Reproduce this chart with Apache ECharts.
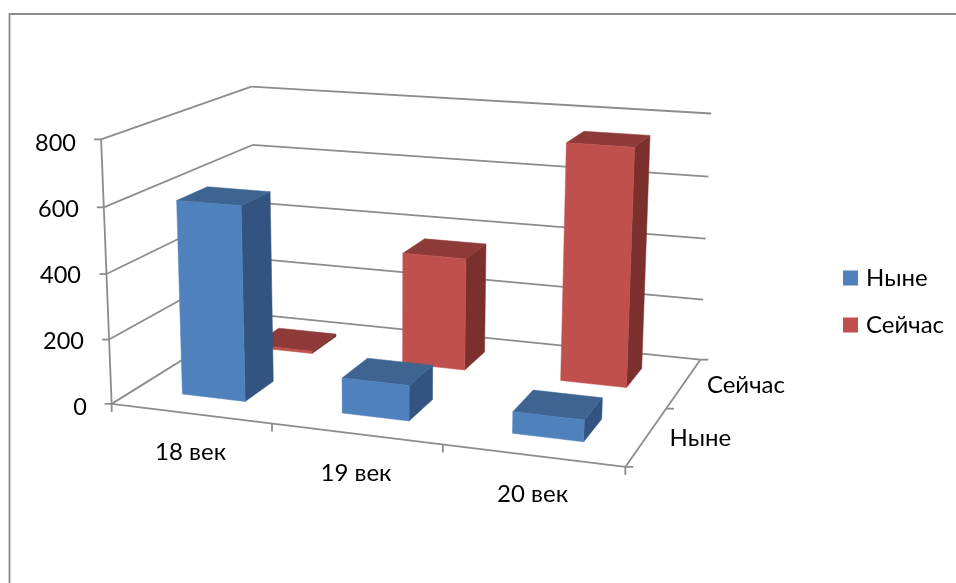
<!DOCTYPE html>
<html><head><meta charset="utf-8">
<style>html,body{margin:0;padding:0;background:#fff}#c{width:956px;height:583px}</style>
<script src="https://cdn.jsdelivr.net/npm/echarts@6/dist/echarts.min.js"></script>
</head><body><div id="c"></div>
<script>
const categories = ['18 век', '19 век', '20 век'];
const depthNames = ['Ныне', 'Сейчас'];
const valuesNyne = [600, 108, 65];
const valuesSeichas = [8, 362, 748];
const yTicks = [0, 200, 400, 600, 800];
const colors = {
  'Ныне': { front: '#4F81BD', top: '#3E6491', side: '#335480' },
  'Сейчас': { front: '#C0504D', top: '#8E3A38', side: '#7B302E' }
};
const font = 'Lato, "Noto Sans", sans-serif';
const textSize = 24;
const gridBox = { left: 113, top: 143, height: 264 };

// Camera calibration: scene point (column, depth row, value share) -> picture point of the box corners.
const calibration = [
  [0,0,0,113,404],[1,0,0,272,423.5],[2,0,0,441.7,445],[3,0,0,625,467],
  [3,1,0,668,408],[3,2,0,700,359],[0,2,0,254,315],
  [0,0,.25,109.5,339],[0,0,.5,107,274],[0,0,.75,103,207],[0,0,1,100,140],
  [0,2,1,252.5,86],[0,2,.75,253,145],
  [3,2,1,711,113.7],[3,2,.75,708,177],[3,2,.25,703,300]
];
function solve(A, b) {
  const n = b.length;
  for (let i = 0; i < n; i++) {
    let p = i;
    for (let r = i + 1; r < n; r++) if (Math.abs(A[r][i]) > Math.abs(A[p][i])) p = r;
    [A[i], A[p]] = [A[p], A[i]]; [b[i], b[p]] = [b[p], b[i]];
    for (let r = i + 1; r < n; r++) {
      const f = A[r][i] / A[i][i];
      for (let c = i; c < n; c++) A[r][c] -= f * A[i][c];
      b[r] -= f * b[i];
    }
  }
  const x = new Array(n);
  for (let i = n - 1; i >= 0; i--) {
    let s = b[i];
    for (let c = i + 1; c < n; c++) s -= A[i][c] * x[c];
    x[i] = s / A[i][i];
  }
  return x;
}
function fitCamera() {
  const rows = [], rhs = [];
  calibration.forEach(([a, d, v, px, py]) => {
    const X = a / 3, Y = d / 2, Z = v, u = px / 1000, w = py / 1000;
    rows.push([X, Y, Z, 1, 0, 0, 0, 0, -u * X, -u * Y, -u * Z]); rhs.push(u);
    rows.push([0, 0, 0, 0, X, Y, Z, 1, -w * X, -w * Y, -w * Z]); rhs.push(w);
  });
  const N = Array.from({ length: 11 }, () => new Array(11).fill(0)), B = new Array(11).fill(0);
  rows.forEach((r, k) => {
    for (let i = 0; i < 11; i++) {
      B[i] += r[i] * rhs[k];
      for (let j = 0; j < 11; j++) N[i][j] += r[i] * r[j];
    }
  });
  return solve(N, B);
}
const cam = fitCamera();
function project(a, d, v) {
  const X = a / 3, Y = d / 2, Z = v;
  const q = cam[8] * X + cam[9] * Y + cam[10] * Z + 1;
  return [(cam[0] * X + cam[1] * Y + cam[2] * Z + cam[3]) / q * 1000,
          (cam[4] * X + cam[5] * Y + cam[6] * Z + cam[7]) / q * 1000];
}
function share(api, v) {
  return (api.coord([0, 0])[1] - api.coord([0, v])[1]) / gridBox.height;
}
const lineStyle = { stroke: '#8C8C8C', lineWidth: 1.8, fill: null };
function seg(a, b) {
  return { type: 'line', shape: { x1: a[0], y1: a[1], x2: b[0], y2: b[1] }, style: lineStyle, silent: true };
}
function label(text, pos, align) {
  return { type: 'text', style: { text, x: pos[0], y: pos[1], fill: '#000', font: textSize + 'px ' + font, textAlign: align, textVerticalAlign: 'middle' }, silent: true };
}
function renderBox(api) {
  const children = [];
  yTicks.forEach(t => {
    const v = share(api, t);
    const fl = project(0, 0, v), bl = project(0, 2, v), br = project(3, 2, v);
    children.push(seg(fl, bl), seg(bl, br), seg([fl[0] - 7, fl[1]], fl));
  });
  children.push(seg(project(0, 0, 0), project(0, 0, 1)));
  children.push(seg(project(0, 0, 0), project(3, 0, 0)), seg(project(3, 0, 0), project(3, 2, 0)));
  categories.concat(['']).forEach((c, i) => {
    const p = project(i, 0, 0);
    children.push(seg(p, [p[0], p[1] + 8]));
  });
  [0, 1, 2].forEach(d => {
    const p = project(3, d, 0);
    children.push(seg(p, [p[0] + 8, p[1]]));
  });
  categories.forEach((c, i) => {
    const p = project(i + .5, 0, 0);
    children.push(label(c, [p[0], p[1] + 39], 'center'));
  });
  depthNames.forEach((c, d) => {
    const p = project(3, d + .5, 0);
    children.push(label(c, [p[0] + 23, p[1] + 2], 'left'));
  });
  return { type: 'group', children };
}
function renderBar(depth, palette) {
  const w = 0.2, dw = 0.2;
  return function (params, api) {
    const cat = api.value(0), v = share(api, api.value(1));
    const x0 = cat + .5 - w, x1 = cat + .5 + w, d0 = depth + .5 - dw, d1 = depth + .5 + dw;
    const poly = (pts, fill) => ({ type: 'polygon', shape: { points: pts }, style: { fill, stroke: fill, lineWidth: .5 } });
    return { type: 'group', children: [
      poly([project(x1, d0, 0), project(x1, d1, 0), project(x1, d1, v), project(x1, d0, v)], palette.side),
      poly([project(x0, d0, v), project(x1, d0, v), project(x1, d1, v), project(x0, d1, v)], palette.top),
      poly([project(x0, d0, 0), project(x1, d0, 0), project(x1, d0, v), project(x0, d0, v)], palette.front)
    ] };
  };
}
const yPad = { 800: 37, 600: 34, 400: 32, 200: 29, 0: 26 };
const richStyles = {};
yTicks.forEach(t => { richStyles['t' + t] = { padding: [0, yPad[t], 0, 0], fontSize: 23.5, fontFamily: font, color: '#000' }; });
const chart = echarts.init(document.getElementById('c'));
chart.setOption({
  animation: false,
  backgroundColor: '#fff',
  grid: { left: gridBox.left, top: gridBox.top, height: gridBox.height, width: 500 },
  xAxis: { type: 'category', data: categories, show: false },
  yAxis: {
    type: 'value', min: 0, max: 800, interval: 200,
    axisLine: { show: false }, axisTick: { show: false }, splitLine: { show: false },
    axisLabel: { margin: 0, formatter: v => '{t' + v + '|' + v + '}', rich: richStyles }
  },
  legend: {
    orient: 'vertical', left: 838, top: 261, itemWidth: 15, itemHeight: 15, itemGap: 23,
    icon: 'rect', data: depthNames, selectedMode: false,
    textStyle: { fontSize: textSize, lineHeight: 20, fontFamily: font, color: '#000', padding: [0, 0, 0, 3] }
  },
  graphic: [{ type: 'polyline', shape: { points: [[9.5, 600], [9.5, 14], [970, 14]] }, style: { fill: null, stroke: '#8C8C8C', lineWidth: 1.8 }, silent: true, z: 0 }],
  series: [
    { type: 'custom', name: 'box', data: [[0, 0]], z: 1, clip: false, renderItem: (p, api) => renderBox(api) },
    { type: 'custom', name: 'Сейчас', data: valuesSeichas.map((v, i) => [i, v]), z: 2, clip: false, itemStyle: { color: colors['Сейчас'].front }, renderItem: renderBar(1, colors['Сейчас']) },
    { type: 'custom', name: 'Ныне', data: valuesNyne.map((v, i) => [i, v]), z: 3, clip: false, itemStyle: { color: colors['Ныне'].front }, renderItem: renderBar(0, colors['Ныне']) }
  ]
});
</script></body></html>
